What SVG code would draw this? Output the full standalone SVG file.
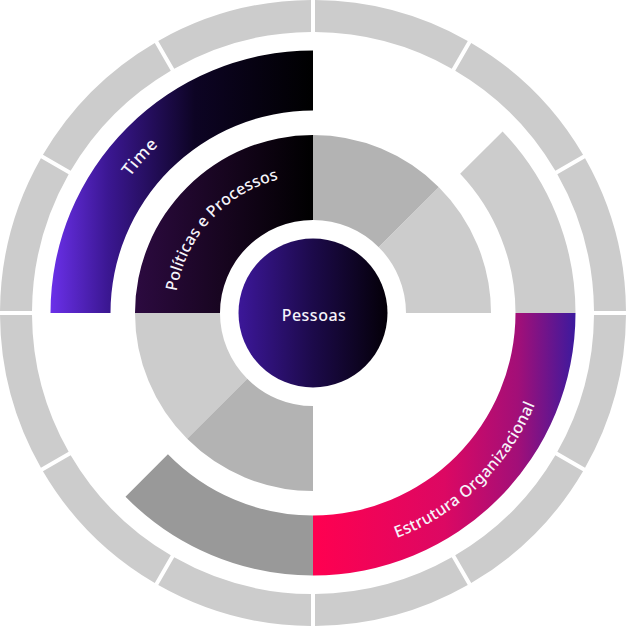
<svg xmlns="http://www.w3.org/2000/svg" xmlns:xlink="http://www.w3.org/1999/xlink" width="627" height="627" viewBox="0 0 627 627">
  <style>
    .seg { fill: #cccccc; }
    .light { fill: #cccccc; }
    .mid { fill: #b3b3b3; }
    .dark { fill: #999999; }
    .lbl { font-family: "Noto Sans", "Open Sans", sans-serif; font-weight: 500; fill: #f6f4fa; }
  </style>
  <defs>
    <path id="outerSeg" d="M 625.99 315 A 313 313 0 0 1 585.06 467.77 L 557.35 451.76 A 281 281 0 0 0 593.99 315 Z"/>
    <linearGradient id="gTime" gradientUnits="userSpaceOnUse" x1="50" y1="0" x2="313" y2="0">
      <stop offset="0" stop-color="#6b30ea"/>
      <stop offset="0.22" stop-color="#3b1792"/>
      <stop offset="0.55" stop-color="#0d0424"/>
      <stop offset="1" stop-color="#000000"/>
    </linearGradient>
    <linearGradient id="gPol" gradientUnits="userSpaceOnUse" x1="135" y1="0" x2="313" y2="0">
      <stop offset="0" stop-color="#2c0a40"/>
      <stop offset="0.5" stop-color="#17051f"/>
      <stop offset="1" stop-color="#000000"/>
    </linearGradient>
    <linearGradient id="gCenter" gradientUnits="userSpaceOnUse" x1="238.5" y1="0" x2="387.5" y2="0">
      <stop offset="0" stop-color="#3c1799"/>
      <stop offset="0.5" stop-color="#1c0a4a"/>
      <stop offset="1" stop-color="#040008"/>
    </linearGradient>
    <linearGradient id="gEst" gradientUnits="userSpaceOnUse" x1="313" y1="0" x2="576" y2="0">
      <stop offset="0" stop-color="#ff0050"/>
      <stop offset="0.5" stop-color="#dc0863"/>
      <stop offset="0.78" stop-color="#a20f78"/>
      <stop offset="1" stop-color="#3b1a9e"/>
    </linearGradient>
    <path id="pTime" d="M 85 313 A 228 228 0 0 1 313 85"/>
    <path id="pPol" d="M 175 313 A 138 138 0 0 1 313 175"/>
    <path id="pEst" d="M 313 553 A 240 240 0 0 0 553 313"/>
  </defs>

  <g id="outer-ring">
    <use xlink:href="#outerSeg" href="#outerSeg" class="seg"/>
    <use xlink:href="#outerSeg" href="#outerSeg" class="seg" transform="rotate(30 313 313)"/>
    <use xlink:href="#outerSeg" href="#outerSeg" class="seg" transform="rotate(60 313 313)"/>
    <use xlink:href="#outerSeg" href="#outerSeg" class="seg" transform="rotate(90 313 313)"/>
    <use xlink:href="#outerSeg" href="#outerSeg" class="seg" transform="rotate(120 313 313)"/>
    <use xlink:href="#outerSeg" href="#outerSeg" class="seg" transform="rotate(150 313 313)"/>
    <use xlink:href="#outerSeg" href="#outerSeg" class="seg" transform="rotate(180 313 313)"/>
    <use xlink:href="#outerSeg" href="#outerSeg" class="seg" transform="rotate(210 313 313)"/>
    <use xlink:href="#outerSeg" href="#outerSeg" class="seg" transform="rotate(240 313 313)"/>
    <use xlink:href="#outerSeg" href="#outerSeg" class="seg" transform="rotate(270 313 313)"/>
    <use xlink:href="#outerSeg" href="#outerSeg" class="seg" transform="rotate(300 313 313)"/>
    <use xlink:href="#outerSeg" href="#outerSeg" class="seg" transform="rotate(330 313 313)"/>
  </g>

  <g id="time">
    <path fill="url(#gTime)" d="M 50.5 313 A 262.5 262.5 0 0 1 313 50.5 L 313 110.5 A 202.5 202.5 0 0 0 110.5 313 Z"/>
    <text class="lbl" font-size="17" letter-spacing="0.8" text-anchor="middle"><textPath xlink:href="#pTime" href="#pTime" startOffset="46.7%">Time</textPath></text>
  </g>

  <g id="middle-top-right">
    <path class="light" d="M 575.5 313 A 262.5 262.5 0 0 0 502.57 131.43 L 460.13 173.87 A 202.5 202.5 0 0 1 515.5 313 Z"/>
  </g>

  <g id="middle-bottom-left">
    <path class="dark" d="M 313 575.5 A 262.5 262.5 0 0 1 125.5 496.7 L 167.92 454.28 A 202.5 202.5 0 0 0 313 515.5 Z"/>
  </g>

  <g id="estrutura-organizacional">
    <path fill="url(#gEst)" d="M 575.5 313 A 262.5 262.5 0 0 1 313 575.5 L 313 515.5 A 202.5 202.5 0 0 0 515.5 313 Z"/>
    <text class="lbl" font-size="16" letter-spacing="0.3" text-anchor="middle"><textPath xlink:href="#pEst" href="#pEst" startOffset="48.9%">Estrutura Organizacional</textPath></text>
  </g>

  <g id="politicas-e-processos">
    <path fill="url(#gPol)" d="M 135 313 A 178 178 0 0 1 313 135 L 313 220 A 93 93 0 0 0 220 313 Z"/>
    <text class="lbl" font-size="16" letter-spacing="0.15" text-anchor="middle"><textPath xlink:href="#pPol" href="#pPol" startOffset="47%">Políticas e Processos</textPath></text>
  </g>

  <g id="inner-top-right">
    <path class="mid" d="M 313 135 A 178 178 0 0 1 438.87 187.13 L 378.76 247.24 A 93 93 0 0 0 313 220 Z"/>
    <path class="light" d="M 438.87 187.13 A 178 178 0 0 1 491 313 L 406 313 A 93 93 0 0 0 378.76 247.24 Z"/>
  </g>

  <g id="inner-bottom-left">
    <path class="light" d="M 135 313 A 178 178 0 0 0 187.13 438.87 L 247.24 378.76 A 93 93 0 0 1 220 313 Z"/>
    <path class="mid" d="M 187.13 438.87 A 178 178 0 0 0 313 491 L 313 406 A 93 93 0 0 1 247.24 378.76 Z"/>
  </g>

  <g id="pessoas">
    <circle cx="313" cy="313" r="74.5" fill="url(#gCenter)"/>
    <text class="lbl" x="314" y="320.5" font-size="16" letter-spacing="0.5" text-anchor="middle">Pessoas</text>
  </g>
</svg>
